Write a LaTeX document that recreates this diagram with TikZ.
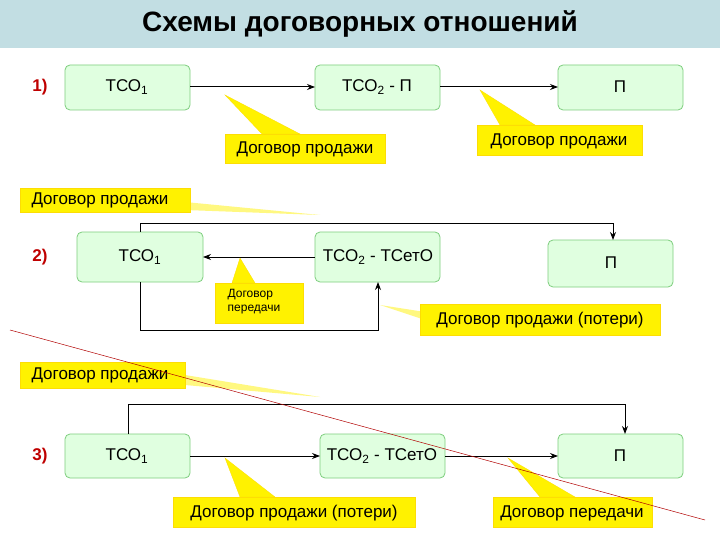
\documentclass[tikz,border=0pt]{standalone}
\usepackage{fontspec}
\setmainfont{Liberation Sans}
\usetikzlibrary{arrows.meta}
\definecolor{titlebar}{HTML}{C2DEE3}
\begin{document}
\begin{tikzpicture}[x=1pt,y=-1pt,
  bx/.style={draw=green!45!gray!70, fill=green!12, rounded corners=5pt, line width=0.8pt},
  call/.style={fill=yellow, draw=yellow!80!orange, line width=0.3pt},
  ct/.style={font=\fontsize{17}{19}\selectfont, anchor=center},
  num/.style={font=\bfseries\fontsize{17}{19}\selectfont, text=red!75!black},
  ar/.style={-{Stealth[length=8pt]}, line width=1pt}]
\useasboundingbox (0,0) rectangle (720,540);
\fill[white] (0,0) rectangle (720,540);
\fill[titlebar] (0,0) rectangle (720,48);
\node[font=\bfseries\fontsize{28}{30}\selectfont] (title) at (360,24) {Схемы договорных отношений};
% row 1
\node[num] (n1) at (40,87) {1)};
\path[bx] (65,65) rectangle (190,110); \node[ct] (a1) at (127,87) {ТСО\textsubscript{1}};
\path[bx] (315,65) rectangle (440,110); \node[ct] (b1) at (377,87) {ТСО\textsubscript{2} - П};
\path[bx] (558,65) rectangle (683,110); \node[ct] (c1) at (620,87) {П};
\coordinate (a1e) at (190,87); \coordinate (b1w) at (315,87); \coordinate (b1e) at (440,87); \coordinate (c1w) at (558,87);
\draw[ar] (a1e) -- (b1w); \draw[ar] (b1e) -- (c1w);
\fill[call] (225,95) -- (262,134) -- (300,134) -- cycle;
\path[call] (225,134) rectangle (385,163); \node[ct] (k1) at (305,149) {Договор продажи};
\fill[call] (480,90) -- (500,125) -- (535,125) -- cycle;
\path[call] (477,125) rectangle (642,155); \node[ct] (k2) at (559,141) {Договор продажи};
% row 2
\node[num] (n2) at (40,257) {2)};
\fill[yellow!50] (185,202) -- (320,215) -- (185,210) -- cycle;
\path[call] (20,188) rectangle (190,212); \node[ct] (k3) at (100,200) {Договор продажи};
\path[bx] (77,232) rectangle (203,282); \node[ct] (a2) at (140,257) {ТСО\textsubscript{1}};
\path[bx] (315,232) rectangle (440,282); \node[ct] (b2) at (378,257) {ТСО\textsubscript{2} - ТСетО};
\path[bx] (548,240) rectangle (673,287); \node[ct] (c2) at (611,263) {П};
\coordinate (a2t) at (140,232); \coordinate (c2t) at (613,240);
\draw[ar] (a2t) |- (613,224) -- (c2t);
\coordinate (b2w) at (315,257); \coordinate (a2e) at (203,257);
\draw[ar] (b2w) -- (a2e);
\coordinate (a2b) at (140,282); \coordinate (b2b) at (378,282);
\draw[ar] (a2b) -- (140,330) -- (378,330) -- (b2b);
\fill[call] (240,258) -- (232,283) -- (255,283) -- cycle;
\path[call] (215,283) rectangle (303,323);
\node[ct, font=\fontsize{12}{14}\selectfont, align=left] (k4) at (254,302) {Договор\\передачи};
\fill[yellow!50] (380,305) -- (425,312) -- (425,320) -- cycle;
\path[call] (420,304) rectangle (660,335); \node[ct] (k5) at (540,320) {Договор продажи (потери)};
% row 3
\node[num] (n3) at (40,456) {3)};
\fill[yellow!50] (185,375) -- (320,397) -- (185,385) -- cycle;
\path[call] (20,362) rectangle (185,388); \node[ct] (k6) at (100,375) {Договор продажи};
\path[bx] (65,434) rectangle (190,478); \node[ct] (a3) at (127,456) {ТСО\textsubscript{1}};
\path[bx] (320,434) rectangle (445,478); \node[ct] (b3) at (382,456) {ТСО\textsubscript{2} - ТСетО};
\path[bx] (558,434) rectangle (683,478); \node[ct] (c3) at (620,456) {П};
\coordinate (a3t) at (128,434); \coordinate (c3t) at (625,434);
\draw[ar] (a3t) |- (625,404) -- (c3t);
\coordinate (a3e) at (190,456); \coordinate (b3w) at (320,456); \coordinate (b3e) at (445,456); \coordinate (c3w) at (558,456);
\draw[ar] (a3e) -- (b3w); \draw[ar] (b3e) -- (c3w);
\fill[call] (225,458) -- (240,497) -- (275,497) -- cycle;
\path[call] (173,497) rectangle (415,527); \node[ct] (k7) at (294,513) {Договор продажи (потери)};
\fill[call] (508,458) -- (540,497) -- (575,497) -- cycle;
\path[call] (493,497) rectangle (652,527); \node[ct] (k8) at (572,513) {Договор передачи};
% red line
\draw[red!70!black, line width=0.5pt] (10,330) -- (705,520);
\end{tikzpicture}
\end{document}
